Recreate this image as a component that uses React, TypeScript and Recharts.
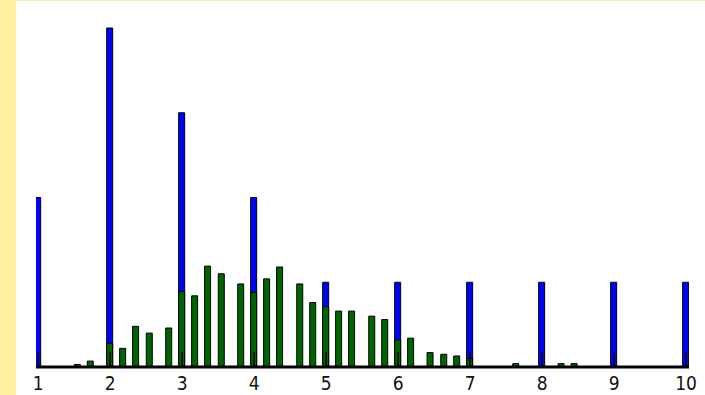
import { BarChart, Bar, XAxis, YAxis } from "recharts";

// blue series: one bar per whole number
const blueX = [1, 2, 3, 4, 5, 6, 7, 8, 9, 10];
const blueVals = [2, 4, 3, 2, 1, 1, 1, 1, 1, 1];

// green series: finer positions
const greenX = [
  1.55, 1.73, 2, 2.18, 2.36, 2.55, 2.82, 3, 3.18, 3.36, 3.55, 3.82, 4, 4.18, 4.36,
  4.64, 4.82, 5, 5.18, 5.36, 5.64, 5.82, 6, 6.18, 6.45, 6.64, 6.82, 7, 7.64, 8.27, 8.45,
];
const greenVals = [
  0.03, 0.07, 0.28, 0.22, 0.48, 0.4, 0.46, 0.89, 0.84, 1.19, 1.1, 0.98, 0.88, 1.04, 1.18,
  0.98, 0.76, 0.71, 0.66, 0.66, 0.6, 0.56, 0.32, 0.34, 0.17, 0.15, 0.13, 0.1, 0.04, 0.04, 0.04,
];

const xTicks = [1, 2, 3, 4, 5, 6, 7, 8, 9, 10];

const BG = "#FFF0A0";
const BLUE = "#0000FF";
const GREEN = "#006400";

// merge both series on x
const rows: { x: number; blue?: number; green?: number }[] = [];
blueX.forEach((x, i) => rows.push({ x, blue: blueVals[i] }));
greenX.forEach((x, i) => {
  const r = rows.find((d) => d.x === x);
  if (r) r.green = greenVals[i];
  else rows.push({ x, green: greenVals[i] });
});
rows.sort((a, b) => a.x - b.x);

function Tick(props: any) {
  const { x, y, payload } = props;
  return (
    <g>
      <line x1={x} x2={x} y1={y - 15} y2={y} stroke="#000" strokeWidth={1.5} />
      <text
        x={x}
        y={y + 23}
        textAnchor="middle"
        fill="#111"
        fontSize={19}
        fontFamily='"Liberation Sans Narrow", "DejaVu Sans Condensed", sans-serif'
      >
        {payload.value}
      </text>
    </g>
  );
}

export default function App() {
  return (
    <div style={{ position: "absolute", left: 0, top: 0, width: 705, height: 395, background: BG }}>
      <div style={{ position: "absolute", left: 16, top: 1, right: 0, bottom: 0, background: "#fff" }} />
      <div style={{ position: "absolute", left: 0, top: 0 }}>
        <BarChart
          width={705}
          height={395}
          data={rows}
          margin={{ top: 28, right: 16, left: 36, bottom: 0 }}
          barGap={-6}
        >
          <YAxis hide domain={[0, 4]} />
          <Bar dataKey="blue" fill={BLUE} stroke="#000" strokeWidth={1} barSize={6} isAnimationActive={false} />
          <Bar dataKey="green" fill={GREEN} stroke="#000" strokeWidth={1} barSize={6} isAnimationActive={false} />
          <XAxis
            dataKey="x"
            type="number"
            domain={[0.97, 10.04]}
            ticks={xTicks}
            allowDataOverflow
            height={28}
            tickSize={0}
            tickMargin={0}
            tickLine={false}
            axisLine={{ stroke: "#000", strokeWidth: 3 }}
            tick={<Tick />}
            interval={0}
          />
        </BarChart>
      </div>
    </div>
  );
}
